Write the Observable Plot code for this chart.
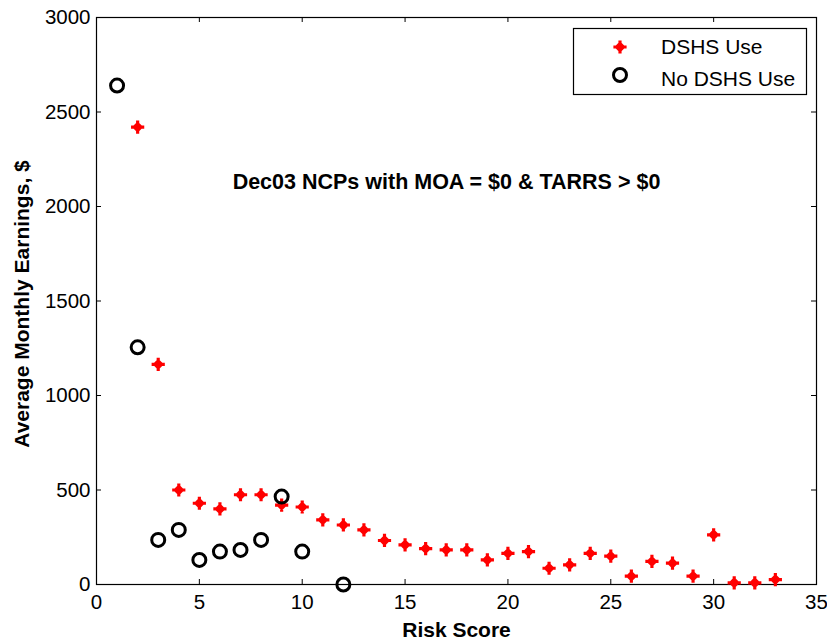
<!DOCTYPE html>
<html>
<head>
<meta charset="utf-8">
<script src="https://cdn.jsdelivr.net/npm/d3@7"></script>
<script src="https://cdn.jsdelivr.net/npm/@observablehq/plot@0.6"></script>
<style>
  html, body { margin: 0; padding: 0; background: #fff; }
  #chart { width: 827px; height: 643px; }
</style>
</head>
<body>
<div id="chart"></div>
<script>
// ---- data ----
const dshsScore = [2,3,4,5,6,7,8,9,10,11,12,13,14,15,16,17,18,19,20,21,22,23,24,25,26,27,28,29,30,31,32,33];
const dshsEarn  = [2420,1165,500,430,400,475,475,420,410,342,315,289,233,210,190,183,183,130,165,174,86,104,165,150,44,122,113,44,263,9,9,26];
const noScore = [1,2,3,4,5,6,7,8,9,10,12];
const noEarn  = [2640,1255,236,289,130,174,183,236,465,174,0];
const xTicks = [0,5,10,15,20,25,30,35];
const yTicks = [0,500,1000,1500,2000,2500,3000];
const seriesNames = ["DSHS Use", "No DSHS Use"];
const titleText = "Dec03 NCPs with MOA = $0 & TARRS > $0";
const xLabel = "Risk Score";
const yLabel = "Average Monthly Earnings, $";

const dshs = dshsScore.map((s, i) => ({score: s, earn: dshsEarn[i]}));
const noDshs = noScore.map((s, i) => ({score: s, earn: noEarn[i]}));

// star-like marker (thin cross + large diamond union)
const star = {
  draw(context, size) {
    const r = Math.sqrt(size / Math.PI);
    const a = r * 0.24;   // arm half width
    const d = r * 0.86;   // diamond half diagonal
    context.moveTo(-a, -r);
    context.lineTo(a, -r);
    context.lineTo(a, -a);
    context.lineTo(r, -a);
    context.lineTo(r, a);
    context.lineTo(a, a);
    context.lineTo(a, r);
    context.lineTo(-a, r);
    context.lineTo(-a, a);
    context.lineTo(-r, a);
    context.lineTo(-r, -a);
    context.lineTo(-a, -a);
    context.closePath();
    context.moveTo(0, -d);
    context.lineTo(d, 0);
    context.lineTo(0, d);
    context.lineTo(-d, 0);
    context.closePath();
  }
};

const W = 827, H = 643, mL = 96, mR = 11, mT = 17, mB = 59;
const pw = W - mL - mR, ph = H - mT - mB, tick = 5;
const font = "'Liberation Sans', Arial, Helvetica, sans-serif";

const chart = Plot.plot({
  width: W, height: H,
  marginLeft: mL, marginRight: mR, marginTop: mT, marginBottom: mB,
  style: {fontFamily: font, fontSize: "20px", color: "#000", background: "#fff"},
  x: {domain: [0, 35]},
  y: {domain: [0, 3000]},
  marks: [
    Plot.frame({stroke: "#000", strokeWidth: 1.2}),
    Plot.ruleX(xTicks, {x: d => d, insetTop: ph - tick, stroke: "#000"}),
    Plot.ruleX(xTicks, {x: d => d, insetBottom: ph - tick, stroke: "#000"}),
    Plot.ruleY(yTicks, {y: d => d, insetRight: pw - tick, stroke: "#000"}),
    Plot.ruleY(yTicks, {y: d => d, insetLeft: pw - tick, stroke: "#000"}),
    Plot.axisX({ticks: xTicks, tickSize: 0, tickPadding: 10, label: null, fontSize: 20.5}),
    Plot.axisY({ticks: yTicks, tickSize: 0, tickPadding: 6, label: null, fontSize: 20.5, tickFormat: d => String(d)}),
    Plot.text([xLabel], {frameAnchor: "bottom", dy: 46, text: d => d, fontWeight: "bold", fontSize: 21, textAnchor: "middle", lineAnchor: "middle"}),
    Plot.text([yLabel], {frameAnchor: "left", dx: -74, dy: 3, rotate: -90, text: d => d, fontWeight: "bold", fontSize: 21, textAnchor: "middle", lineAnchor: "middle"}),
    Plot.text([titleText], {frameAnchor: "top-left", dx: 350, dy: 165, text: d => d, fontWeight: "bold", fontSize: 21.5, textAnchor: "middle", lineAnchor: "middle"}),
    Plot.dot(dshs, {x: "score", y: "earn", symbol: star, r: 6.6, fill: "#ff0000", stroke: "none"}),
    Plot.dot(noDshs, {x: "score", y: "earn", r: 6.5, fill: "none", stroke: "#000", strokeWidth: 3})
  ]
});

// legend inside the plot (top right)
const svg = d3.select(chart);
const lg = svg.append("g");
lg.append("rect").attr("x", 573.5).attr("y", 28.5).attr("width", 233).attr("height", 66)
  .attr("fill", "#fff").attr("stroke", "#000").attr("stroke-width", 1.2);
const starPath = d3.path(); star.draw(starPath, 6.6 * 6.6 * Math.PI);
lg.append("path").attr("d", starPath.toString()).attr("transform", "translate(620,47)").attr("fill", "#ff0000");
lg.append("circle").attr("cx", 620).attr("cy", 75).attr("r", 6.5).attr("fill", "none").attr("stroke", "#000").attr("stroke-width", 3);
lg.selectAll("text.lt").data(seriesNames).join("text")
  .attr("x", 661).attr("y", (d, i) => i === 0 ? 47 : 79)
  .attr("dy", "0.35em").attr("text-anchor", "start")
  .attr("font-size", 21).attr("font-family", font).attr("fill", "#000")
  .text(d => d);

document.getElementById("chart").appendChild(chart);
</script>
</body>
</html>
